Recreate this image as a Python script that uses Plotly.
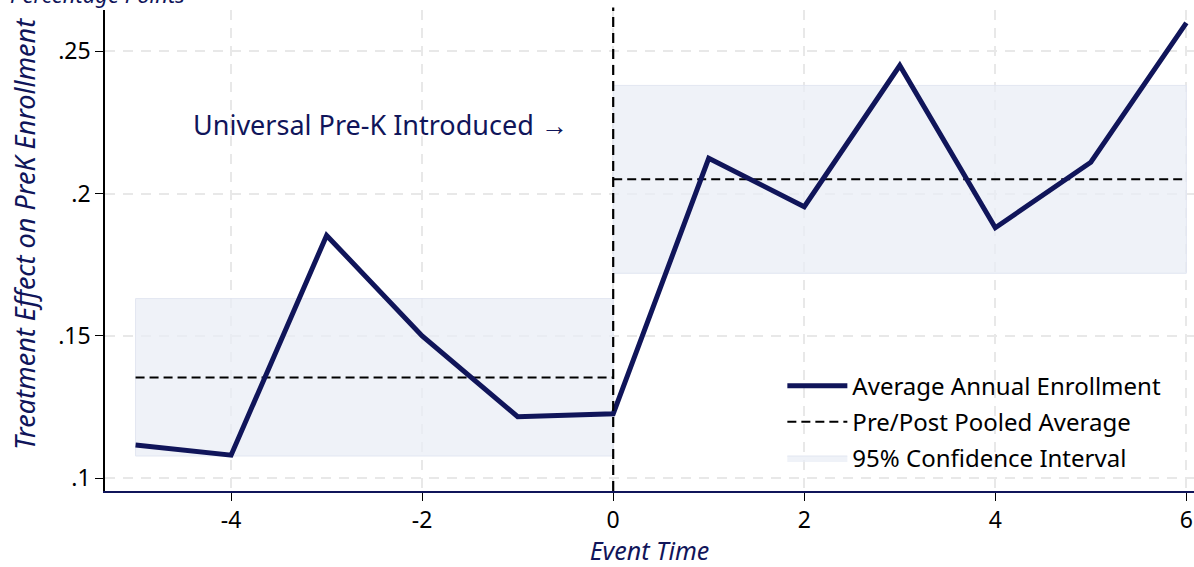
import plotly.graph_objects as go

event_time = [-5, -4, -3, -2, -1, 0, 1, 2, 3, 4, 5, 6]
enrollment = [0.1117, 0.1081, 0.1853, 0.150, 0.1216, 0.1226, 0.2124, 0.1954, 0.2450, 0.1880, 0.2110, 0.2600]

pre_x = [-5, 0]
post_x = [0, 6]
pre_avg = 0.1354
post_avg = 0.2050
pre_ci = [0.1078, 0.1631]
post_ci = [0.1720, 0.2380]

x_ticks = [-4, -2, 0, 2, 4, 6]
x_ticklabels = ["-4", "-2", "0", "2", "4", "6"]
y_ticks = [0.10, 0.15, 0.20, 0.25]
y_ticklabels = [".1", ".15", ".2", ".25"]

NAVY = "#10155a"
FILL = "rgba(234,237,246,0.75)"
FONT = "Noto Sans"

fig = go.Figure()

# CI bands
fig.add_trace(go.Scatter(
    x=[pre_x[0], pre_x[1], pre_x[1], pre_x[0], pre_x[0]],
    y=[pre_ci[0], pre_ci[0], pre_ci[1], pre_ci[1], pre_ci[0]],
    fill="toself", fillcolor=FILL, mode="lines",
    line=dict(color="rgba(226,230,241,1)", width=1),
    name="95% Confidence Interval", legendgroup="c", showlegend=True, legendrank=3,
    hoverinfo="skip"))
fig.add_trace(go.Scatter(
    x=[post_x[0], post_x[1], post_x[1], post_x[0], post_x[0]],
    y=[post_ci[0], post_ci[0], post_ci[1], post_ci[1], post_ci[0]],
    fill="toself", fillcolor=FILL, mode="lines",
    line=dict(color="rgba(226,230,241,1)", width=1),
    name="95% Confidence Interval", legendgroup="c", showlegend=False, hoverinfo="skip"))

# pooled averages
fig.add_trace(go.Scatter(
    x=pre_x, y=[pre_avg, pre_avg], mode="lines",
    line=dict(color="black", width=2, dash="9px,5px"),
    name="Pre/Post Pooled Average", legendgroup="b", legendrank=2))
fig.add_trace(go.Scatter(
    x=post_x, y=[post_avg, post_avg], mode="lines",
    line=dict(color="black", width=2, dash="9px,5px"),
    name="Pre/Post Pooled Average", legendgroup="b", showlegend=False))

# main line
fig.add_trace(go.Scatter(
    x=event_time, y=enrollment, mode="lines",
    line=dict(color=NAVY, width=5),
    name="Average Annual Enrollment", legendgroup="a", legendrank=1))

# vertical line at 0
fig.add_shape(type="line", x0=0, x1=0, xref="x", y0=0, y1=1.005, yref="paper",
              line=dict(color="black", width=2.2, dash="10px,6px"), layer="above")

fig.add_annotation(text="Universal Pre-K Introduced \u2192", x=-0.45, y=0.2244,
                   xref="x", yref="y", xanchor="right", yanchor="middle",
                   showarrow=False, font=dict(family=FONT, size=27, color=NAVY))

fig.add_annotation(text="<i>Percentage Points</i>", x=-0.089, y=1, xref="paper", yref="paper",
                   xanchor="left", yanchor="bottom", yshift=-1, showarrow=False,
                   font=dict(family=FONT, size=22, color=NAVY))

# y-axis title (placed as annotation to match its off-centre position)
fig.add_annotation(text="<i>Treatment Effect on PreK Enrollment</i>", textangle=-90,
                   x=-0.074, y=0.535, xref="paper", yref="paper",
                   xanchor="center", yanchor="middle", showarrow=False,
                   font=dict(family=FONT, size=27, color=NAVY))

grid = dict(showgrid=True, gridcolor="#e8e8e8", gridwidth=1.5, griddash="10px,8px")

fig.update_layout(
    width=1194, height=567,
    margin=dict(l=105, r=0, t=10, b=76, autoexpand=False),
    paper_bgcolor="white", plot_bgcolor="white",
    font=dict(family=FONT, size=23, color="black"),
    showlegend=True,
    legend=dict(x=0.622, y=0.265, xanchor="left", yanchor="top",
                bgcolor="rgba(255,255,255,0)", font=dict(size=24, color="black"),
                traceorder="grouped", tracegroupgap=2, itemwidth=60),
    xaxis=dict(range=[-5.32, 6.08], tickvals=x_ticks, ticktext=x_ticklabels,
               ticks="outside", ticklen=8,
               tickcolor="black", showline=True, linecolor=NAVY, linewidth=1.5,
               zeroline=False, automargin=False,
               title=dict(text="<i>Event Time</i>", font=dict(size=25, color=NAVY), standoff=10),
               **grid),
    yaxis=dict(range=[0.0955, 0.2645], tickvals=y_ticks, ticktext=y_ticklabels,
               ticks="outside", ticklen=8, tickcolor="black", showline=True,
               linecolor="black", linewidth=1.5, zeroline=False, automargin=False,
               **grid),
)

fig.write_html("out.html", config={"displayModeBar": False},
               post_script="document.body.style.margin='0px';document.body.style.overflow='hidden';")
